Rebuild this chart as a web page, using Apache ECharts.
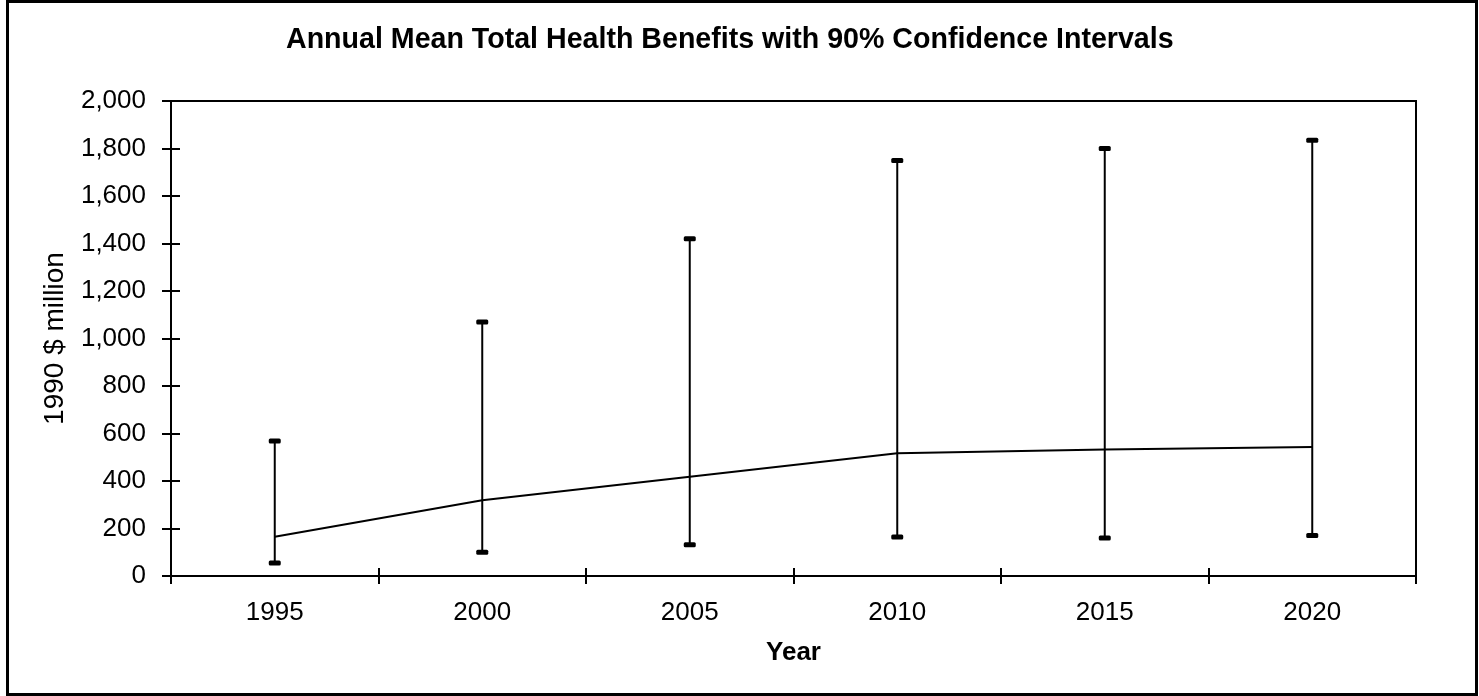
<!DOCTYPE html>
<html>
<head>
<meta charset="utf-8">
<script src="https://cdn.jsdelivr.net/npm/echarts@6/dist/echarts.min.js"></script>
<style>
  html, body { margin: 0; padding: 0; background: #fff; }
  #chart { width: 1479px; height: 696px; }
</style>
</head>
<body>
<div id="chart"></div>
<script>
// values (1990 $ million)
const years = ['1995', '2000', '2005', '2010', '2015', '2020'];
const meanBenefit = [165, 319, 418, 517, 533, 543];
const lower90 = [55, 100, 132, 164, 160, 171];
const upper90 = [568, 1070, 1420, 1750, 1800, 1835];

const FONT = 'Liberation Sans, Arial, sans-serif';

const myChart = echarts.init(document.getElementById('chart'));

// error bar: vertical stem plus a short thick cap at each end
const renderBar = (params, api) => {
  const lo = api.coord([api.value(0), api.value(1)]);
  const hi = api.coord([api.value(0), api.value(2)]);
  const capW = 12;
  const capH = 5;
  return {
    type: 'group',
    children: [
      { type: 'line', shape: { x1: lo[0], y1: lo[1], x2: hi[0], y2: hi[1] },
        style: { stroke: '#000', lineWidth: 2 } },
      { type: 'rect', shape: { x: hi[0] - capW / 2, y: hi[1] - capH / 2, width: capW, height: capH, r: 1.5 },
        style: { fill: '#000' } },
      { type: 'rect', shape: { x: lo[0] - capW / 2, y: lo[1] - capH / 2, width: capW, height: capH, r: 1.5 },
        style: { fill: '#000' } },
    ],
  };
};

const barData = years.map((y, i) => [i, lower90[i], upper90[i]]);

const option = {
  backgroundColor: '#fff',
  animation: false,
  title: {
    text: 'Annual Mean Total Health Benefits with 90% Confidence Intervals',
    left: 281,
    top: 21,
    textStyle: { fontFamily: FONT, fontWeight: 'bold', fontSize: 28.6, color: '#000' },
  },
  graphic: [{
    type: 'rect',
    shape: { x: 7.5, y: 1.5, width: 1469, height: 693 },
    style: { fill: null, stroke: '#000', lineWidth: 3 },
    silent: true,
  }],
  grid: {
    left: 171, top: 101, right: 63, bottom: 120,
    show: true, borderColor: '#000', borderWidth: 2,
  },
  xAxis: [{
    type: 'category',
    data: years,
    boundaryGap: true,
    name: 'Year',
    nameLocation: 'middle',
    nameGap: 64,
    nameTextStyle: { fontFamily: FONT, fontWeight: 'bold', fontSize: 26, color: '#000' },
    axisLine: { lineStyle: { color: '#000', width: 2 } },
    axisTick: { show: true, length: 8, lineStyle: { color: '#000', width: 2 } },
    axisLabel: { fontFamily: FONT, fontSize: 26, color: '#000', margin: 24 },
    splitLine: { show: false },
  }, {
    // second copy only for the inward half of the cross ticks
    type: 'category',
    data: years,
    position: 'bottom',
    boundaryGap: true,
    axisLine: { show: false },
    axisTick: { show: true, inside: true, length: 8, lineStyle: { color: '#000', width: 2 } },
    axisLabel: { show: false },
    splitLine: { show: false },
  }],
  yAxis: [{
    type: 'value',
    min: 0,
    max: 2000,
    interval: 200,
    name: '1990 $ million',
    nameLocation: 'middle',
    nameGap: 102,
    nameTextStyle: { fontFamily: FONT, fontSize: 28, color: '#000' },
    axisLine: { show: true, lineStyle: { color: '#000', width: 2 } },
    axisTick: { show: true, length: 9, lineStyle: { color: '#000', width: 2 } },
    axisLabel: {
      fontFamily: FONT, fontSize: 26, color: '#000', margin: 25,
      formatter: (v) => v.toLocaleString('en-US'),
    },
    splitLine: { show: false },
  }, {
    type: 'value',
    min: 0,
    max: 2000,
    interval: 200,
    position: 'left',
    axisLine: { show: false },
    axisTick: { show: true, inside: true, length: 9, lineStyle: { color: '#000', width: 2 } },
    axisLabel: { show: false },
    splitLine: { show: false },
  }],
  series: [{
    name: 'Mean',
    type: 'line',
    data: meanBenefit,
    symbol: 'none',
    lineStyle: { color: '#000', width: 2 },
    z: 3,
  }, {
    name: '90% CI',
    type: 'custom',
    data: barData,
    renderItem: renderBar,
    encode: { x: 0, y: [1, 2] },
    z: 4,
  }],
};

myChart.setOption(option);
</script>
</body>
</html>
